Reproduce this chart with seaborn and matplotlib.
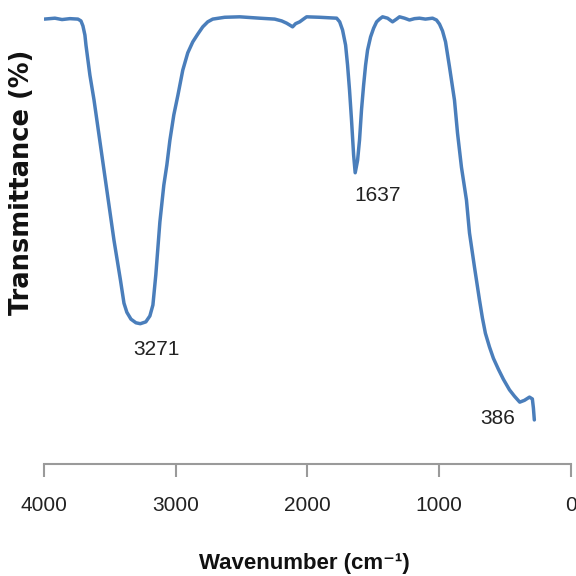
import matplotlib
matplotlib.use("Agg")
import matplotlib.pyplot as plt
import seaborn as sns
import pandas as pd

# FTIR spectrum
wavenumber = [4000, 3920, 3866, 3806, 3745, 3722, 3707, 3692, 3684, 3654, 3623, 3585,
              3547, 3509, 3471, 3422, 3395, 3373, 3342, 3304, 3271, 3229, 3198, 3175,
              3153, 3122, 3092, 3069, 3046, 3016, 2985, 2948, 2910, 2872, 2834, 2796,
              2758, 2720, 2629, 2515, 2363, 2249, 2196, 2158, 2135, 2113, 2090, 2059,
              2021, 2006, 1907, 1778, 1755, 1733, 1710, 1695, 1680, 1665, 1649, 1637,
              1619, 1604, 1589, 1573, 1558, 1543, 1520, 1497, 1474, 1452, 1429, 1391,
              1353, 1323, 1300, 1262, 1224, 1186, 1148, 1103, 1049, 1019, 996, 973,
              950, 920, 882, 859, 829, 791, 768, 730, 692, 670, 647, 616, 586, 548,
              510, 464, 426, 386, 350, 312, 290, 282, 275]
transmittance = [97.5, 97.7, 97.4, 97.6, 97.5, 97.1, 96.0, 94.0, 91.8, 85.2, 79.8, 72.1,
                 64.4, 56.7, 49.0, 40.3, 35.2, 33.2, 31.7, 30.9, 30.7, 31.1, 32.4, 34.8,
                 41.4, 53.0, 61.1, 65.5, 70.9, 76.5, 80.8, 86.3, 90.1, 92.5, 94.2, 95.8,
                 96.9, 97.5, 97.9, 98.0, 97.7, 97.5, 97.1, 96.6, 96.2, 95.8, 96.5, 96.9,
                 97.7, 98.0, 97.9, 97.7, 96.9, 95.1, 91.8, 87.4, 81.9, 75.4, 67.7, 63.8,
                 66.5, 71.0, 77.6, 83.0, 87.4, 90.7, 93.6, 95.5, 96.9, 97.5, 98.0, 97.7,
                 96.9, 97.5, 98.0, 97.7, 97.3, 97.6, 97.7, 97.5, 97.7, 97.3, 96.4, 94.9,
                 92.5, 87.0, 79.7, 72.5, 65.0, 57.8, 50.6, 43.1, 35.9, 32.0, 28.6, 25.6,
                 23.1, 20.7, 18.5, 16.2, 14.8, 13.5, 13.9, 14.6, 14.2, 12.2, 9.6]

peak_labels = ["3271", "1637", "386"]
peak_x = [3271, 1637, 386]
peak_y = [30.7, 63.8, 13.5]
peak_offsets = [(11.5, -18.7), (15.8, -16.6), (-15.8, -11.5)]

x_ticks = [4000, 3000, 2000, 1000, 0]
x_tick_labels = ["4000", "3000", "2000", "1000", "0"]

df = pd.DataFrame({"wavenumber": wavenumber, "transmittance": transmittance})

sns.set_style("white")
sans = ["Liberation Sans", "DejaVu Sans"]

fig = plt.figure(figsize=(5.76, 5.76), dpi=100)
ax = fig.add_axes([44.4 / 576, 112.3 / 576, 526.1 / 576, 456 / 576])

sns.lineplot(data=df, x="wavenumber", y="transmittance", ax=ax, sort=False,
             color="#4a7ebb", linewidth=2.5)
ax.lines[0].set_solid_joinstyle("round")
ax.lines[0].set_solid_capstyle("round")

ax.set_xlim(4000, 0)
ax.set_ylim(0, 100)
ax.set_yticks([])
ax.set_xticks(x_ticks)
ax.set_xticklabels(x_tick_labels, fontfamily=sans, fontsize=15, color="#222222")
ax.tick_params(axis="x", bottom=True, direction="out", length=9.4, width=1.5,
               color="#9a9a9a", pad=14)

for s in ["top", "right", "left"]:
    ax.spines[s].set_visible(False)
ax.spines["bottom"].set_color("#9a9a9a")
ax.spines["bottom"].set_linewidth(1.5)

for lab, px, py, off in zip(peak_labels, peak_x, peak_y, peak_offsets):
    ax.annotate(lab, xy=(px, py), xytext=off, textcoords="offset points",
                ha="center", va="center", fontfamily=sans, fontsize=15,
                color="#222222")

ax.set_xlabel("Wavenumber (cm⁻¹)", fontfamily=sans, fontsize=16,
              fontweight="bold", color="#111111")
ax.xaxis.set_label_coords(0.495, -0.218)
ax.xaxis.label.set_va("center")

ax.set_ylabel("Transmittance (%)", fontfamily=["DejaVu Sans"], fontsize=18.5,
              fontweight="bold", color="#111111")
ax.yaxis.set_label_coords(-0.0435, 0.616)
ax.yaxis.label.set_va("center")
ax.yaxis.label.set_ha("center")

fig.savefig("out.png", dpi=100)
